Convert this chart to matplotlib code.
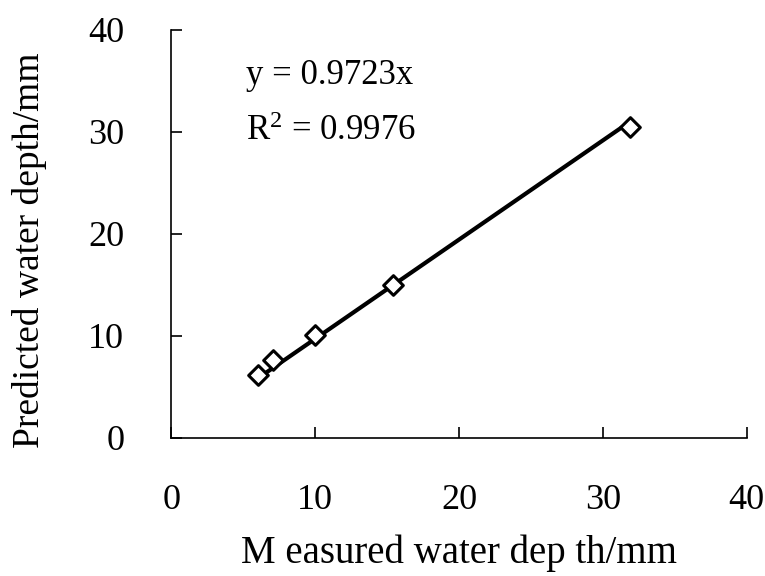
import matplotlib
matplotlib.use("Agg")
import matplotlib.pyplot as plt
import numpy as np

measured = [6.0, 7.1, 10.0, 15.4, 31.9]
predicted = [6.2, 7.6, 10.1, 15.0, 30.5]
slope = 0.9723
r2 = 0.9976
ticks = [0, 10, 20, 30, 40]

plt.rcParams['font.family'] = ['Liberation Serif', 'DejaVu Serif']
plt.rcParams['mathtext.fontset'] = 'custom'
plt.rcParams['mathtext.rm'] = 'Liberation Serif'
plt.rcParams['mathtext.it'] = 'Liberation Serif:italic'

fig = plt.figure(figsize=(7.65, 5.76), dpi=100)
ax = fig.add_axes([0.224, 0.2396, 0.752, 0.7084])

xs = np.array([min(measured), max(measured)])
ax.plot(xs, slope * xs, color='black', lw=3, zorder=2)
ax.scatter(measured, predicted, marker='D', s=100, facecolors='white',
           edgecolors='black', linewidths=2.2, zorder=3)

ax.set_xlim(0, 40)
ax.set_ylim(0, 40)
ax.set_xticks(ticks)
ax.set_yticks(ticks)
ax.spines['top'].set_visible(False)
ax.spines['right'].set_visible(False)
for s in ['left', 'bottom']:
    ax.spines[s].set_linewidth(1.2)
ax.tick_params(direction='in', length=8, width=1.2, labelsize=26)
ax.tick_params(axis='x', pad=33)
ax.tick_params(axis='y', pad=34)

ax.set_xlabel('M easured water dep th/mm', fontsize=28, labelpad=13)
ax.set_ylabel('Predicted water depth/mm', fontsize=27)
ax.yaxis.set_label_coords(-0.216, 0.461)

ax.text(5.2, 34.7, f'y = {slope}x', fontsize=25, va='baseline', ha='left')
ax.text(5.2, 29.2, f'R$^2$ = {r2}', fontsize=25, va='baseline', ha='left')

fig.savefig('out.png', dpi=100)
